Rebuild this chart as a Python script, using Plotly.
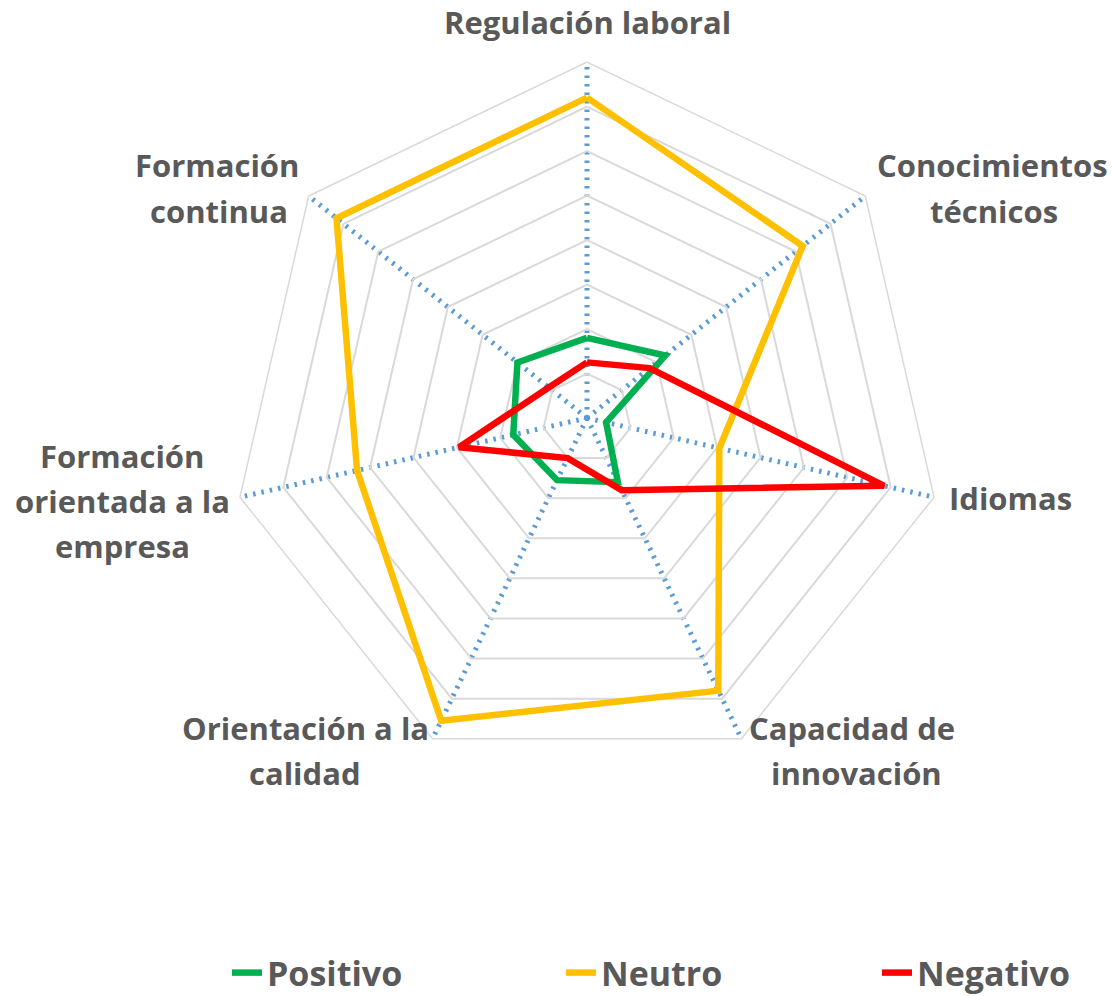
import plotly.graph_objects as go

categories = ["Regulación laboral", "Conocimientos técnicos", "Idiomas",
              "Capacidad de innovación", "Orientación a la calidad",
              "Formación orientada a la empresa", "Formación continua"]
positivo = [18, 22.5, 4.4, 16, 15.5, 17, 20]
neutro = [72, 62, 30.5, 68, 75.5, 53, 72]
negativo = [12.5, 18, 68.5, 18, 10, 29.5, 11]

series_names = ["Positivo", "Neutro", "Negativo"]
series_colors = ["#00B050", "#FFC000", "#FF0000"]

# label lines (text, x px, y px)
label_lines = [
    ("Regulación laboral", 587, 22),
    ("Conocimientos", 992, 165), ("técnicos", 994, 211),
    ("Idiomas", 1010, 498),
    ("Capacidad de", 852, 728), ("innovación", 856, 773),
    ("Orientación a la", 305, 728), ("calidad", 305, 773),
    ("Formación", 122, 456), ("orientada a la", 122, 501), ("empresa", 122, 546),
    ("Formación", 217, 165), ("continua", 219, 211),
]

W, H = 1112, 996
cx, cy, R = 587, 418, 356

fig = go.Figure()
for i, (name, vals, col) in enumerate(zip(series_names, [positivo, neutro, negativo], series_colors)):
    fig.add_trace(go.Scatterpolar(
        r=vals + vals[:1], theta=categories + categories[:1],
        mode="lines", name=name,
        line=dict(color=col, width=6.5),
        legend="legend" if i == 0 else f"legend{i+1}",
    ))

font_lbl = dict(family="'Open Sans', sans-serif", size=31, color="#595959", weight="bold")
annotations = []
for txt, x, y in label_lines:
    annotations.append(dict(text=txt, x=x / W, y=1 - y / H, xref="paper", yref="paper",
                            xanchor="center", yanchor="middle", showarrow=False, font=font_lbl))

legfont = dict(family="'Open Sans', sans-serif", size=34, color="#595959", weight="bold")
leg_x = [227, 561, 877]
legs = {}
for i, lx in enumerate(leg_x):
    key = "legend" if i == 0 else f"legend{i+1}"
    legs[key] = dict(x=lx / W, y=-6 / H, xanchor="left", yanchor="bottom",
                     orientation="h", font=legfont, bgcolor="rgba(0,0,0,0)",
                     itemwidth=30)

fig.update_layout(
    width=W, height=H,
    margin=dict(l=0, r=0, t=0, b=0, autoexpand=False),
    paper_bgcolor="white",
    showlegend=True,
    annotations=annotations,
    polar=dict(
        domain=dict(x=[(cx - R) / W, (cx + R) / W], y=[1 - (cy + R) / H, 1 - (cy - R) / H]),
        bgcolor="white",
        gridshape="linear",
        angularaxis=dict(direction="clockwise", rotation=90, showticklabels=False, ticks="",
                         showline=True, linecolor="#D9D9D9", linewidth=1.5,
                         showgrid=True, gridcolor="#5B9BD5", gridwidth=5, griddash="2.5px,6px"),
        radialaxis=dict(range=[0, 80], dtick=10, showticklabels=False, ticks="",
                        showline=False, showgrid=True, gridcolor="#D9D9D9", gridwidth=1.5),
    ),
    **legs,
)

fig.write_html("out.html", config={"displayModeBar": False},
               post_script="document.body.style.margin='0px';")
